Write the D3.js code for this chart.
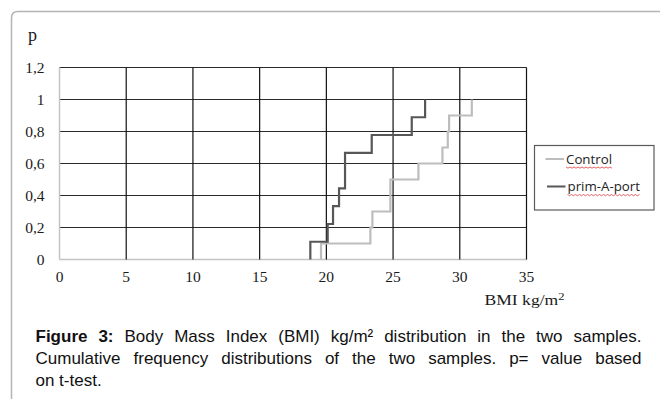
<!DOCTYPE html>
<html>
<head>
<meta charset="utf-8">
<script src="https://cdn.jsdelivr.net/npm/d3@7"></script>
<style>
  html, body { margin: 0; padding: 0; background: #fff; }
  svg { display: block; }
</style>
</head>
<body>
<svg id="chart" width="660" height="399"></svg>
<script>
// tick values and labels
const xTicks = [0, 5, 10, 15, 20, 25, 30, 35];
const yTicks = [0, 0.2, 0.4, 0.6, 0.8, 1, 1.2];
const yTickLabels = ["0", "0,2", "0,4", "0,6", "0,8", "1", "1,2"];

// cumulative steps (BMI where the step rises, p after it)
const controlBMI = [19.6, 23.3, 23.45, 24.8, 26.9, 28.7, 29.1, 29.2, 30.9];
const controlP   = [0.1, 0.2, 0.3, 0.5, 0.6, 0.7, 0.8, 0.9, 1.0];
const primBMI = [18.8, 20.1, 20.5, 20.95, 21.4, 23.4, 26.4, 27.4];
const primP   = [0.111, 0.222, 0.333, 0.444, 0.667, 0.778, 0.889, 1.0];

const seriesNames = ["Control", "prim-A-port"];

const captionLines = [
  ["Figure 3:", "Body Mass Index (BMI) kg/m\u00b2 distribution in the two samples."],
  ["", "Cumulative frequency distributions of the two samples. p= value based"],
  ["", "on t-test."]
];

const svg = d3.select("#chart");

// card outline
svg.append("path")
  .attr("d", "M11.5,420 L11.5,18 Q11.5,11.5 18,11.5 L680,11.5")
  .attr("fill", "none")
  .attr("stroke", "#b4b4b4")
  .attr("stroke-width", 1.5);

const x = d3.scaleLinear().domain([0, 35]).range([59.5, 526.5]);
const y = d3.scaleLinear().domain([0, 1.2]).range([259.5, 67.5]);

const serif = "'Liberation Serif', 'Times New Roman', serif";

// grid
const grid = svg.append("g");
grid.selectAll("line.h")
  .data(yTicks)
  .enter().append("line")
  .attr("x1", x(0)).attr("x2", x(35))
  .attr("y1", d => y(d)).attr("y2", d => y(d))
  .attr("stroke", d => d === 0 ? "#c4c4c4" : "#2a2a2a")
  .attr("stroke-width", d => d === 0 ? 1.5 : 1.2);
grid.selectAll("line.v")
  .data(xTicks)
  .enter().append("line")
  .attr("y1", y(0)).attr("y2", y(1.2))
  .attr("x1", d => x(d)).attr("x2", d => x(d))
  .attr("stroke", d => d === 0 ? "#c4c4c4" : "#111")
  .attr("stroke-width", d => d === 0 ? 1.5 : 1.2);

// axis labels
svg.append("g").selectAll("text")
  .data(yTicks)
  .enter().append("text")
  .attr("x", 44.5)
  .attr("y", d => y(d) + 5)
  .attr("text-anchor", "end")
  .attr("font-family", serif)
  .attr("font-size", "15.5px")
  .attr("fill", "#1a1a1a")
  .text((d, i) => yTickLabels[i]);

svg.append("g").selectAll("text")
  .data(xTicks)
  .enter().append("text")
  .attr("x", d => x(d))
  .attr("y", 281.5)
  .attr("text-anchor", "middle")
  .attr("font-family", serif)
  .attr("font-size", "15.5px")
  .attr("fill", "#1a1a1a")
  .text(d => d);

svg.append("text")
  .attr("x", 28).attr("y", 41)
  .attr("font-family", serif)
  .attr("font-size", "18px")
  .attr("fill", "#1a1a1a")
  .text("p");

const xTitle = svg.append("text")
  .attr("x", 484.5).attr("y", 305)
  .attr("font-family", serif)
  .attr("font-size", "14px")
  .attr("fill", "#1a1a1a")
  .attr("textLength", 80)
  .attr("lengthAdjust", "spacingAndGlyphs");
xTitle.append("tspan").text("BMI kg/m");
xTitle.append("tspan").attr("dy", -5.5).attr("font-size", "10px").text("2");

// step lines
const line = d3.line()
  .x(d => x(d[0]))
  .y(d => y(d[1]))
  .curve(d3.curveStepAfter);

function stepPoints(xs, ps) {
  const pts = [[xs[0], 0]];
  xs.forEach((v, i) => pts.push([v, ps[i]]));
  return pts;
}

svg.append("path")
  .datum(stepPoints(controlBMI, controlP))
  .attr("d", line)
  .attr("fill", "none")
  .attr("stroke", "#bdbdbd")
  .attr("stroke-width", 2.2);

svg.append("path")
  .datum(stepPoints(primBMI, primP))
  .attr("d", line)
  .attr("fill", "none")
  .attr("stroke", "#575757")
  .attr("stroke-width", 2.2);

// legend
const legend = svg.append("g");
legend.append("rect")
  .attr("x", 534.5).attr("y", 145.5)
  .attr("width", 119.5).attr("height", 64.5)
  .attr("fill", "#fff")
  .attr("stroke", "#5a5a5a")
  .attr("stroke-width", 1.2);

const legendColors = ["#bdbdbd", "#575757"];
const legendY = [159, 186.5];
seriesNames.forEach((name, i) => {
  const g = legend.append("g");
  g.append("line")
    .attr("x1", 545.5 + i * 1.5).attr("x2", 564 + i * 1.5)
    .attr("y1", legendY[i]).attr("y2", legendY[i])
    .attr("stroke", legendColors[i])
    .attr("stroke-width", 2);
  const t = g.append("text")
    .attr("x", 566 + i * 1.5)
    .attr("y", legendY[i] + 4.5)
    .attr("font-family", "'Open Sans', sans-serif")
    .attr("font-size", "13.3px")
    .attr("fill", "#222")
    .text(name);
  const w = t.node().getComputedTextLength();
  // spell-check squiggle under the legend text
  const x0 = 566 + i * 1.5, yy = legendY[i] + 8;
  let d = `M${x0},${yy}`;
  for (let k = 0; x0 + (k + 1) * 2 <= x0 + w; k++) {
    d += ` L${x0 + (k + 1) * 2},${k % 2 === 0 ? yy + 1.2 : yy}`;
  }
  g.append("path")
    .attr("d", d)
    .attr("fill", "none")
    .attr("stroke", "#e03a3a")
    .attr("stroke-width", 0.8);
});

// caption, justified to the text column
const capLeft = 35.5, capRight = 641.5;
const capBase = [341.5, 363.5, 385.5];
const cap = svg.append("g")
  .attr("font-family", "'Liberation Sans', Arial, sans-serif")
  .attr("font-size", "17px")
  .attr("fill", "#111");

captionLines.forEach((parts, li) => {
  const words = [];
  if (parts[0]) parts[0].split(" ").forEach(w => words.push({ w, bold: true }));
  parts[1].split(" ").forEach(w => words.push({ w, bold: false }));
  const nodes = words.map(o => cap.append("text")
    .attr("y", capBase[li])
    .attr("font-weight", o.bold ? "bold" : "normal")
    .text(o.w));
  const widths = nodes.map(n => n.node().getComputedTextLength());
  const total = d3.sum(widths);
  const justify = li < captionLines.length - 1;
  const gap = justify ? (capRight - capLeft - total) / (nodes.length - 1) : 4.7;
  let cx = capLeft;
  nodes.forEach((n, i) => {
    n.attr("x", cx);
    cx += widths[i] + gap;
  });
});
</script>
</body>
</html>
